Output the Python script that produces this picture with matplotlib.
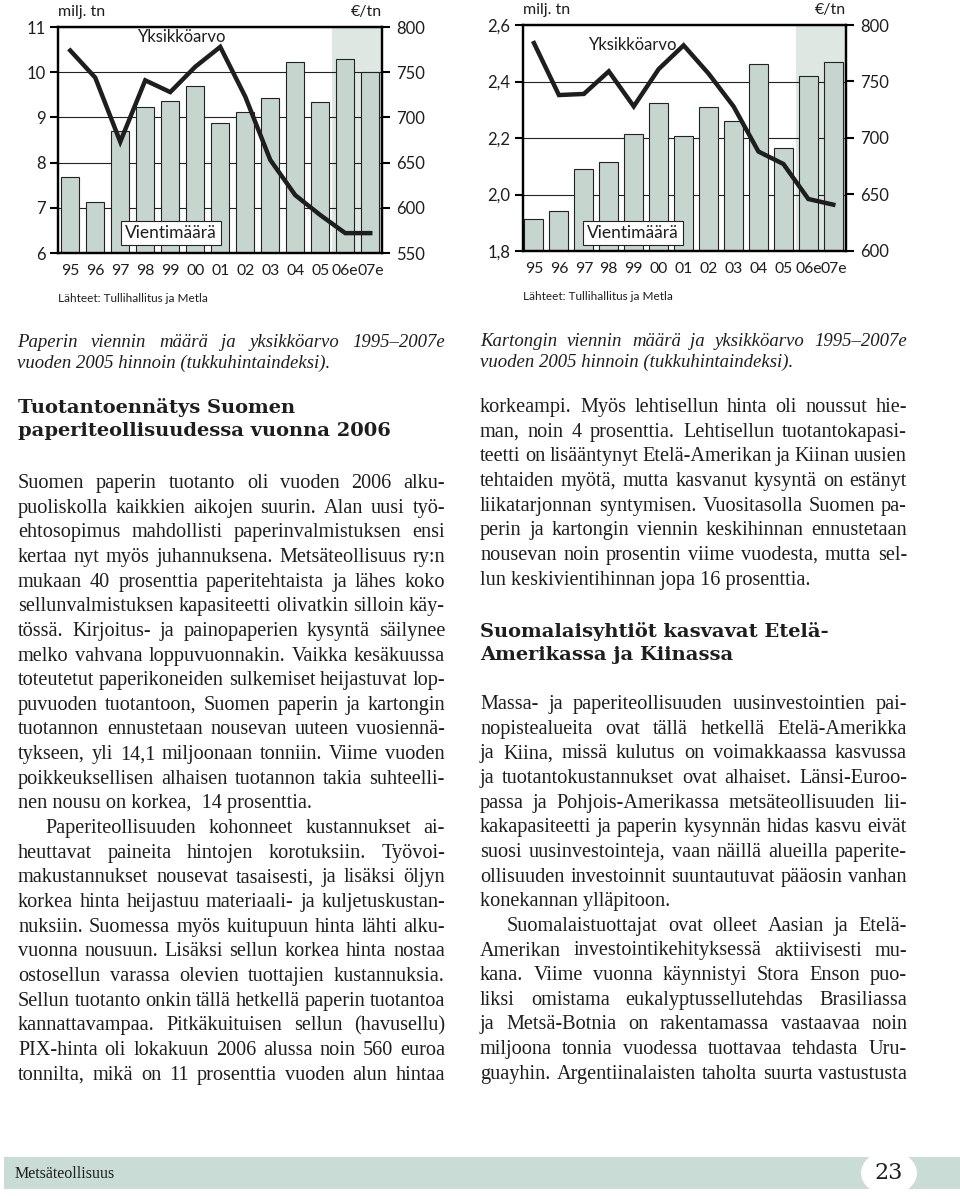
import matplotlib
matplotlib.use("Agg")
import matplotlib.pyplot as plt
from matplotlib.patches import Rectangle, Ellipse

# ---- chart data ----
years = ["95", "96", "97", "98", "99", "00", "01", "02", "03", "04", "05", "06e", "07e"]

paper_volume = [7.68, 7.12, 8.71, 9.24, 9.37, 9.70, 8.88, 9.11, 9.44, 10.22, 9.33, 10.29, 10.0]
paper_price = [774, 744, 673, 741, 728, 756, 778, 723, 653, 614, 592, 572, 572]
paper_left_ticks = [6, 7, 8, 9, 10, 11]
paper_left_labels = ["6", "7", "8", "9", "10", "11"]
paper_right_ticks = [550, 600, 650, 700, 750, 800]

board_volume = [1.914, 1.94, 2.09, 2.115, 2.213, 2.325, 2.207, 2.309, 2.261, 2.462, 2.163, 2.419, 2.47]
board_price = [784, 738, 739, 759, 728, 761, 782, 757, 728, 688, 677, 646, 641]
board_left_ticks = [1.8, 2.0, 2.2, 2.4, 2.6]
board_left_labels = ["1,8", "2,0", "2,2", "2,4", "2,6"]
board_right_ticks = [600, 650, 700, 750, 800]

# ---- page text ----
cap_left = ["Paperin viennin määrä ja yksikköarvo 1995–2007e",
            "vuoden 2005 hinnoin (tukkuhintaindeksi)."]
cap_right = ["Kartongin viennin määrä ja yksikköarvo 1995–2007e",
             "vuoden 2005 hinnoin (tukkuhintaindeksi)."]
head_left = ["Tuotantoennätys Suomen", "paperiteollisuudessa vuonna 2006"]
head_right = ["Suomalaisyhtiöt kasvavat Etelä-", "Amerikassa ja Kiinassa"]

left_par1 = [
    "Suomen paperin tuotanto oli vuoden 2006 alku-",
    "puoliskolla kaikkien aikojen suurin. Alan uusi työ-",
    "ehtosopimus mahdollisti paperinvalmistuksen ensi",
    "kertaa nyt myös juhannuksena. Metsäteollisuus ry:n",
    "mukaan 40 prosenttia paperitehtaista ja lähes koko",
    "sellunvalmistuksen kapasiteetti olivatkin silloin käy-",
    "tössä. Kirjoitus- ja painopaperien kysyntä säilynee",
    "melko vahvana loppuvuonnakin. Vaikka kesäkuussa",
    "toteutetut paperikoneiden sulkemiset heijastuvat lop-",
    "puvuoden tuotantoon, Suomen paperin ja kartongin",
    "tuotannon ennustetaan nousevan uuteen vuosiennä-",
    "tykseen, yli 14,1 miljoonaan tonniin. Viime vuoden",
    "poikkeuksellisen alhaisen tuotannon takia suhteelli-",
    "nen nousu on korkea,  14 prosenttia.",
]
left_par2 = [
    "Paperiteollisuuden kohonneet kustannukset ai-",
    "heuttavat paineita hintojen korotuksiin. Työvoi-",
    "makustannukset nousevat tasaisesti, ja lisäksi öljyn",
    "korkea hinta heijastuu materiaali- ja kuljetuskustan-",
    "nuksiin. Suomessa myös kuitupuun hinta lähti alku-",
    "vuonna nousuun. Lisäksi sellun korkea hinta nostaa",
    "ostosellun varassa olevien tuottajien kustannuksia.",
    "Sellun tuotanto onkin tällä hetkellä paperin tuotantoa",
    "kannattavampaa. Pitkäkuituisen sellun (havusellu)",
    "PIX-hinta oli lokakuun 2006 alussa noin 560 euroa",
    "tonnilta, mikä on 11 prosenttia vuoden alun hintaa",
]
right_par1 = [
    "korkeampi. Myös lehtisellun hinta oli noussut hie-",
    "man, noin 4 prosenttia. Lehtisellun tuotantokapasi-",
    "teetti on lisääntynyt Etelä-Amerikan ja Kiinan uusien",
    "tehtaiden myötä, mutta kasvanut kysyntä on estänyt",
    "liikatarjonnan syntymisen. Vuositasolla Suomen pa-",
    "perin ja kartongin viennin keskihinnan ennustetaan",
    "nousevan noin prosentin viime vuodesta, mutta sel-",
    "lun keskivientihinnan jopa 16 prosenttia.",
]
right_par2 = [
    "Massa- ja paperiteollisuuden uusinvestointien pai-",
    "nopistealueita ovat tällä hetkellä Etelä-Amerikka",
    "ja Kiina, missä kulutus on voimakkaassa kasvussa",
    "ja tuotantokustannukset ovat alhaiset. Länsi-Euroo-",
    "passa ja Pohjois-Amerikassa metsäteollisuuden lii-",
    "kakapasiteetti ja paperin kysynnän hidas kasvu eivät",
    "suosi uusinvestointeja, vaan näillä alueilla paperite-",
    "ollisuuden investoinnit suuntautuvat pääosin vanhan",
    "konekannan ylläpitoon.",
]
right_par3 = [
    "Suomalaistuottajat ovat olleet Aasian ja Etelä-",
    "Amerikan investointikehityksessä aktiivisesti mu-",
    "kana. Viime vuonna käynnistyi Stora Enson puo-",
    "liksi omistama eukalyptussellutehdas Brasiliassa",
    "ja Metsä-Botnia on rakentamassa vastaavaa noin",
    "miljoona tonnia vuodessa tuottavaa tehdasta Uru-",
    "guayhin. Argentiinalaisten taholta suurta vastustusta",
]

W, H = 960, 1196
plt.rcParams['font.family'] = ['Lato', 'DejaVu Sans']
fig = plt.figure(figsize=(9.6, 11.96), dpi=100)
renderer = fig.canvas.get_renderer()

def fx(x):
    return x / W

def fy(y):
    return 1 - y / H

BAR = '#c6d6ce'
SHADE = '#dfe7e2'
INK = '#1e1e1e'

def chart(left, right, top, bottom, volume, price, lt, ltl, rt, xlim, bw,
          shade_from, yk_xy, vm_xy, src_y, unit_y):
    ax = fig.add_axes([fx(left), fy(bottom), (right - left) / W, (bottom - top) / H])
    x = list(range(len(years)))
    ax.axvspan(shade_from, xlim[1], color=SHADE, zorder=0, lw=0)
    ax.bar(x, [v - lt[0] for v in volume], bottom=lt[0], width=bw, color=BAR,
           edgecolor='#222222', linewidth=0.8, zorder=2)
    ax.set_xlim(*xlim)
    ax.set_ylim(lt[0], lt[-1])
    ax.set_yticks(lt)
    ax.set_yticklabels(ltl)
    ax.set_xticks(x)
    ax.set_xticklabels(years)
    ax.yaxis.grid(True, color='#222222', lw=0.8, zorder=1)
    ax.set_axisbelow(True)
    ax.tick_params(axis='x', length=0, pad=8, labelsize=11.3, labelcolor=INK)
    ax.tick_params(axis='y', length=6, width=1.5, direction='out', pad=3, labelsize=12,
                   labelcolor=INK)
    for s in ax.spines.values():
        s.set_linewidth(1.6)

    ax2 = ax.twinx()
    ax2.plot(x, price, color=INK, lw=3.2, solid_joinstyle='miter', zorder=5)
    ax2.set_ylim(rt[0], rt[-1])
    ax2.set_yticks(rt)
    ax2.tick_params(axis='y', length=6, width=1.5, direction='out', pad=4, labelsize=12,
                    labelcolor=INK)
    for s in ax2.spines.values():
        s.set_linewidth(1.6)

    fig.text(fx(left), fy(unit_y), "milj. tn", fontsize=11.5, va='center', ha='left', color=INK)
    fig.text(fx(right), fy(unit_y), "€/tn", fontsize=11.5, va='center', ha='right', color=INK)
    fig.text(fx(yk_xy[0]), fy(yk_xy[1]), "Yksikköarvo", fontsize=12, ha='center',
             va='center', color=INK)
    fig.text(fx(vm_xy[0]), fy(vm_xy[1]), "Vientimäärä", fontsize=12.5, ha='center',
             va='center', zorder=10, color=INK,
             bbox=dict(boxstyle='square,pad=0.25', fc='white', ec='#222222', lw=0.8))
    fig.text(fx(left), fy(src_y), "Lähteet: Tullihallitus ja Metla", fontsize=8.5,
             va='baseline', ha='left', color=INK)


chart(58, 382, 27, 253, paper_volume, paper_price, paper_left_ticks, paper_left_labels,
      paper_right_ticks, (-0.49, 12.47), 0.73, 10.45, (182, 37), (171, 233), 302, 12)
chart(523, 846, 25, 251, board_volume, board_price, board_left_ticks, board_left_labels,
      board_right_ticks, (-0.44, 12.51), 0.76, 10.5, (633, 45), (633, 233), 300, 10)


def place_line(text, x0, x1, y, size, justify, **kw):
    if not justify:
        fig.text(fx(x0), fy(y), text, fontsize=size, va='baseline', **kw)
        return
    words = text.split()
    ts = [fig.text(0, fy(y), w, fontsize=size, va='baseline', **kw) for w in words]
    ws = [t.get_window_extent(renderer).width for t in ts]
    gap = (x1 - x0 - sum(ws)) / (len(words) - 1)
    min_gap = size * 0.22
    if gap < min_gap:
        f = (x1 - x0 - min_gap * (len(words) - 1)) / sum(ws)
        for t in ts:
            t.set_fontsize(size * f)
        ws = [t.get_window_extent(renderer).width for t in ts]
        gap = (x1 - x0 - sum(ws)) / (len(words) - 1)
    xx = x0
    for t, w in zip(ts, ws):
        t.set_x(fx(xx))
        xx += w + gap


def paragraph(lines, x0, x1, y0, dy, size, indent=0, last_just=False, **kw):
    for i, ln in enumerate(lines):
        just = (i < len(lines) - 1) or last_just
        place_line(ln, x0 + (indent if i == 0 else 0), x1, y0 + i * dy, size, just, **kw)


SERIF = ['Liberation Serif', 'DejaVu Serif']
BODY = 14.6
DY = 24.65

# captions
paragraph(cap_left, 17, 445, 347, 21, 13.5, family=SERIF, style='italic', color=INK)
paragraph(cap_right, 480, 907, 346, 21, 13.5, family=SERIF, style='italic', color=INK)

# headings
for i, ln in enumerate(head_left):
    fig.text(fx(18), fy(413 + i * 23), ln, fontsize=14, fontweight='bold',
             family=['DejaVu Serif'], va='baseline', color=INK)
for i, ln in enumerate(head_right):
    fig.text(fx(480), fy(637 + i * 23), ln, fontsize=14, fontweight='bold',
             family=['DejaVu Serif'], va='baseline', color=INK)

# left column
paragraph(left_par1, 18, 445, 488, DY, BODY, family=SERIF, color=INK)
paragraph(left_par2, 18, 445, 488 + len(left_par1) * DY, DY, BODY, indent=27,
          last_just=True, family=SERIF, color=INK)

# right column
paragraph(right_par1, 480, 907, 412, DY, BODY, family=SERIF, color=INK)
paragraph(right_par2, 480, 907, 709, DY, BODY, family=SERIF, color=INK)
paragraph(right_par3, 480, 907, 709 + len(right_par2) * DY, DY, BODY, indent=27,
          last_just=True, family=SERIF, color=INK)

# footer band
fig.patches.append(Rectangle((fx(4), fy(1189)), (960 - 4) / W, 32 / H,
                             transform=fig.transFigure, fc='#c9dcd5', ec='none', zorder=0))
fig.patches.append(Ellipse((fx(889), fy(1173)), 56 / W, 44 / H,
                           transform=fig.transFigure, fc='white', ec='none', zorder=1))
fig.text(fx(15), fy(1178), "Metsäteollisuus", fontsize=11.5, family=SERIF, va='baseline',
         color=INK)
fig.text(fx(889), fy(1173), "23", fontsize=16, family=['DejaVu Serif'], ha='center',
         va='center', color=INK)

fig.savefig("out.png", dpi=100)
